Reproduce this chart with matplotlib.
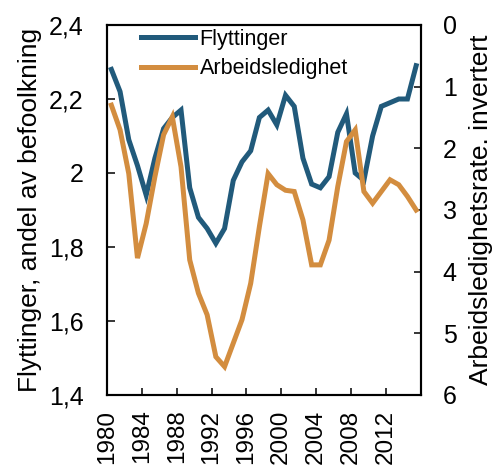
import matplotlib
matplotlib.use('Agg')
import matplotlib.pyplot as plt
from matplotlib.ticker import FuncFormatter
from matplotlib.lines import Line2D

plt.rcParams['font.family'] = ['Liberation Sans', 'DejaVu Sans']

# Data
years = list(range(1980, 2016))
flyttinger = [2.28, 2.22, 2.09, 2.02, 1.94, 2.04, 2.12, 2.15, 2.17, 1.96,
              1.88, 1.85, 1.81, 1.85, 1.98, 2.03, 2.06, 2.15, 2.17, 2.13,
              2.21, 2.18, 2.04, 1.97, 1.96, 1.99, 2.11, 2.16, 2.00, 1.98,
              2.10, 2.18, 2.19, 2.20, 2.20, 2.29]
arbeidsledighet = [1.30, 1.70, 2.41, 3.78, 3.22, 2.46, 1.78, 1.49, 2.30, 3.81,
                   4.35, 4.70, 5.38, 5.54, 5.16, 4.78, 4.19, 3.27, 2.41, 2.59,
                   2.68, 2.70, 3.16, 3.89, 3.89, 3.49, 2.62, 1.89, 1.70, 2.70,
                   2.89, 2.70, 2.51, 2.59, 2.78, 3.00]
x_tick_labels = ['1980', '1984', '1988', '1992', '1996', '2000', '2004', '2008', '2012']
left_ticks = [1.4, 1.6, 1.8, 2.0, 2.2, 2.4]
right_ticks = [0, 1, 2, 3, 4, 5, 6]

BLUE = '#215a7b'
ORANGE = '#d38d3f'
LW = 3.6
TICK_FS = 18

fig = plt.figure(figsize=(4.95, 4.68), dpi=100)
ax = fig.add_axes([107 / 495, 1 - 395 / 468, 313.5 / 495, 370 / 468])
ax2 = ax.twinx()

ax.plot(years, flyttinger, color=BLUE, lw=LW, solid_joinstyle='miter')
ax2.plot(years, arbeidsledighet, color=ORANGE, lw=LW, solid_joinstyle='miter')

# Excel-style category axis: points sit between the tick marks
ax.set_xlim(years[0] - 0.5, years[-1] + 0.5)
tick_pos = [int(t) - 0.5 for t in x_tick_labels] + [years[-1] + 0.5]
ax.set_xticks(tick_pos)
ax.set_xticklabels(x_tick_labels + [''], rotation=90, fontsize=17.5)

ax.set_ylim(1.4, 2.4)
ax.set_yticks(left_ticks)
ax.yaxis.set_major_formatter(FuncFormatter(lambda v, p: f'{v:g}'.replace('.', ',')))
ax2.set_ylim(6, 0)
ax2.set_yticks(right_ticks)

for a in (ax, ax2):
    for s in a.spines.values():
        s.set_linewidth(1.5)
ax.tick_params(axis='y', direction='in', length=5.5, width=1.1, pad=17, labelsize=TICK_FS)
ax.tick_params(axis='x', direction='in', length=5, width=1.1, pad=10.5)
ax2.tick_params(axis='y', direction='in', length=5, width=1.1, pad=16, labelsize=TICK_FS)

ax.set_ylabel('Flyttinger, andel av befoolkning', fontsize=19, labelpad=5)
ax2.set_ylabel('Arbeidsledighetsrate. invertert', fontsize=19, labelpad=9)

handles = [Line2D([], [], color=BLUE, lw=LW),
           Line2D([], [], color=ORANGE, lw=LW)]
ax.legend(handles, ['Flyttinger', 'Arbeidsledighet'], loc='upper left',
          bbox_to_anchor=(0.11, 0.99), frameon=False, fontsize=15.5,
          borderpad=0, borderaxespad=0, handlelength=2.5, handletextpad=0.2,
          labelspacing=0.4)

fig.savefig('out.png', dpi=100)
